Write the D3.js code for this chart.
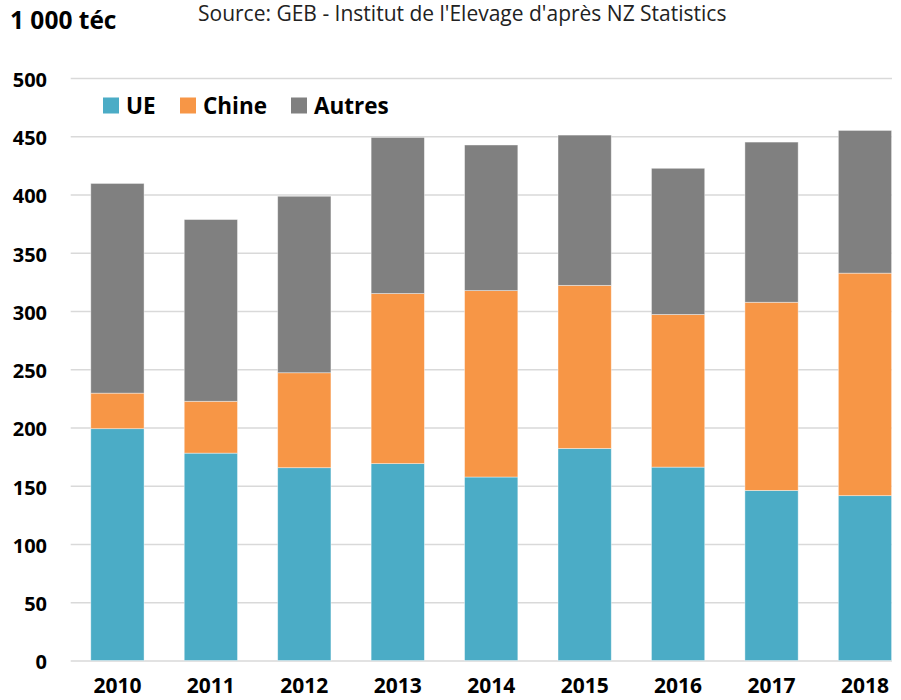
<!DOCTYPE html>
<html>
<head>
<meta charset="utf-8">
<script src="https://cdn.jsdelivr.net/npm/d3@7"></script>
<style>
  body { margin: 0; background: #fff; }
  svg { display: block; font-family: 'Open Sans', sans-serif; }
</style>
</head>
<body>
<svg id="chart"></svg>
<script>
const width = 901
const height = 700

const years = ['2010', '2011', '2012', '2013', '2014', '2015', '2016', '2017', '2018']
const ue = [199, 178, 165.5, 169, 157.5, 182, 166, 146, 141.5]
const chine = [30.5, 44.5, 81.5, 146, 160, 140, 131, 161.5, 191]
const autres = [180, 156, 151.5, 134, 125, 129, 125.5, 137.5, 122.5]
const yTicks = [0, 50, 100, 150, 200, 250, 300, 350, 400, 450, 500]

const seriesNames = ['UE', 'Chine', 'Autres']
const colors = ['#4bacc6', '#f79646', '#808080']

const table = years.map((year, i) => ({
  year,
  UE: ue[i],
  Chine: chine[i],
  Autres: autres[i],
}))

const svg = d3.select('#chart').attr('width', width).attr('height', height)

const x = d3
  .scaleBand()
  .domain(years)
  .range([70.7, 911.7])
  .paddingInner(0.43)
  .paddingOuter(0.215)

const y = d3.scaleLinear().domain([0, 500]).range([660.5, 78])

const color = d3.scaleOrdinal().domain(seriesNames).range(colors)

// gridlines + y labels
const yAxis = svg
  .append('g')
  .attr('transform', 'translate(70.7,0)')
  .call(
    d3
      .axisLeft(y)
      .tickValues(yTicks)
      .tickSize(-(892 - 70.7))
      .tickPadding(23.7)
  )
yAxis.select('.domain').remove()
yAxis.selectAll('line').attr('stroke', '#d9d9d9').attr('stroke-width', 1.3)
yAxis
  .selectAll('text')
  .attr('fill', '#000')
  .attr('font-size', 20)
  .attr('font-weight', 'bold')
  .attr('font-family', "'Open Sans', sans-serif")
  .attr('dy', '0.42em')

// stacked bars
const stacked = d3.stack().keys(seriesNames)(table)

svg
  .append('g')
  .selectAll('g')
  .data(stacked)
  .join('g')
  .attr('fill', d => color(d.key))
  .selectAll('rect')
  .data(d => d)
  .join('rect')
  .attr('x', d => x(d.data.year))
  .attr('width', x.bandwidth())
  .attr('y', d => y(d[1]))
  .attr('height', d => y(d[0]) - y(d[1]))
  .attr('stroke', 'rgba(255,255,255,0.5)')
  .attr('stroke-width', 0.8)

// x labels
const xAxis = svg
  .append('g')
  .attr('transform', 'translate(0,660.5)')
  .call(d3.axisBottom(x).tickSize(0).tickPadding(0))
xAxis.select('.domain').remove()
xAxis
  .selectAll('text')
  .attr('fill', '#000')
  .attr('font-size', 21)
  .attr('font-weight', 'bold')
  .attr('font-family', "'Open Sans', sans-serif")
  .attr('dy', 0)
  .attr('y', 32.5)

// unit + source
svg
  .append('text')
  .attr('x', 10)
  .attr('y', 28.5)
  .attr('font-size', 24.5)
  .attr('font-weight', 'bold')
  .text('1 000 téc')

svg
  .append('text')
  .attr('x', 198)
  .attr('y', 21)
  .attr('font-size', 21)
  .attr('fill', '#222')
  .text("Source: GEB - Institut de l'Elevage d'après NZ Statistics")

// legend
const legendX = [103, 180, 291]
const legend = svg
  .append('g')
  .selectAll('g')
  .data(seriesNames)
  .join('g')
  .attr('transform', (d, i) => `translate(${legendX[i]},97.5)`)

legend
  .append('rect')
  .attr('width', 16)
  .attr('height', 16)
  .attr('fill', d => color(d))

legend
  .append('text')
  .attr('x', 23)
  .attr('y', 16)
  .attr('font-size', 22.5)
  .attr('font-weight', 'bold')
  .text(d => d)
</script>
</body>
</html>
